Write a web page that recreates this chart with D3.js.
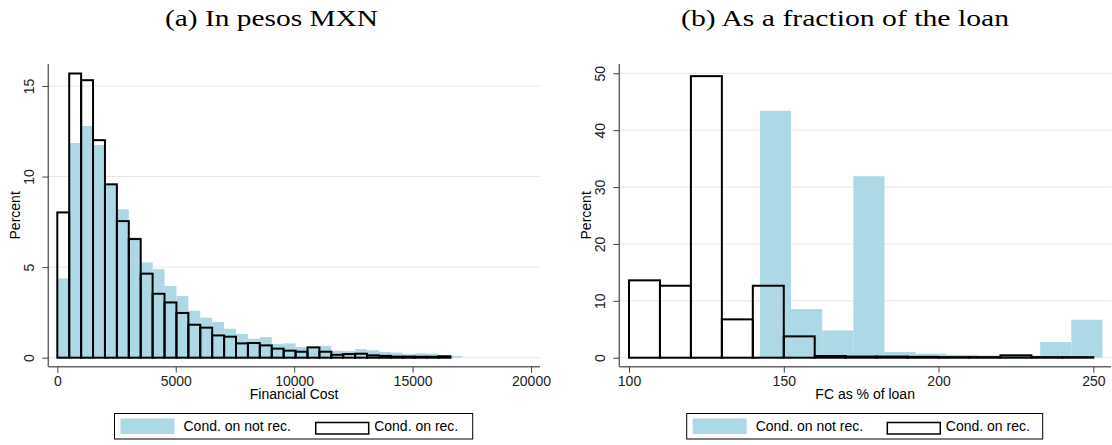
<!DOCTYPE html>
<html>
<head>
<meta charset="utf-8">
<script src="https://cdn.jsdelivr.net/npm/d3@7"></script>
<style>
  body { margin: 0; background: #fff; }
  text { font-family: "Liberation Sans", Arial, sans-serif; }
</style>
</head>
<body>
<div id="chart"></div>
<script>
// (a) financial cost in pesos, bins of ~503
const costBinStart = 0;
const costBinWidth = 503;
const costNotRec = [4.38, 11.85, 12.79, 11.74, 9.6, 8.2, 6.64, 5.26, 4.89, 3.96, 3.4, 2.59, 2.21, 1.97, 1.6, 1.31,
  1.05, 1.14, 0.76, 0.79, 0.59, 0.55, 0.65, 0.39, 0.36, 0.48, 0.41, 0.32, 0.28, 0.19, 0.24, 0.22, 0.13, 0.09];
const costRec = [8.02, 15.69, 15.32, 12.01, 9.57, 7.54, 6.55, 4.64, 3.53, 3.05, 2.47, 1.82, 1.66, 1.23, 1.16, 0.79,
  0.81, 0.68, 0.5, 0.39, 0.33, 0.57, 0.33, 0.16, 0.2, 0.22, 0.13, 0.1, 0.06, 0.06, 0.05, 0.05, 0.08];
const costTicksX = [0, 5000, 10000, 15000, 20000];
const costTicksY = [0, 5, 10, 15];

// (b) FC as % of loan
const fracNotRecStart = 142.3;
const fracNotRecWidth = 10.06;
const fracNotRec = [43.4, 8.55, 4.8, 31.9, 1.0, 0.7, 0.5, 0.4, 0.4, 2.76, 6.68];
const fracRecStart = 100;
const fracRecWidth = 10;
const fracRec = [13.6, 12.65, 49.5, 6.74, 12.65, 3.75, 0.3, 0.2, 0.2, 0.15, 0.1, 0.1, 0.42, 0.1, 0.1];
const fracTicksX = [100, 150, 200, 250];
const fracTicksY = [0, 10, 20, 30, 40, 50];

const legendLabels = ["Cond. on not rec.", "Cond. on rec."];
const blue = "#add8e6";

const svg = d3.select("#chart").append("svg")
  .attr("width", 1112)
  .attr("height", 445);

function drawPanel(p) {
  const g = svg.append("g");
  const x = d3.scaleLinear().domain(p.xDomain).range(p.xRange);
  const y = d3.scaleLinear().domain(p.yDomain).range(p.yRange);

  // gridlines
  g.append("g").selectAll("line")
    .data(p.yTicks)
    .join("line")
    .attr("x1", p.axisLeft).attr("x2", p.axisRight)
    .attr("y1", d => y(d)).attr("y2", d => y(d))
    .attr("stroke", "#e8e8e8").attr("stroke-width", 1);

  // filled bars (not received)
  g.append("g").selectAll("rect")
    .data(p.blue)
    .join("rect")
    .attr("x", (d, i) => x(p.blueStart + i * p.blueWidth))
    .attr("width", (d, i) => x(p.blueStart + (i + 1) * p.blueWidth) - x(p.blueStart + i * p.blueWidth))
    .attr("y", d => y(d))
    .attr("height", d => y(0) - y(d))
    .attr("fill", blue);

  // outlined bars (received)
  g.append("g").selectAll("rect")
    .data(p.black)
    .join("rect")
    .attr("x", (d, i) => x(p.blackStart + i * p.blackWidth))
    .attr("width", (d, i) => x(p.blackStart + (i + 1) * p.blackWidth) - x(p.blackStart + i * p.blackWidth))
    .attr("y", d => y(d))
    .attr("height", d => y(0) - y(d))
    .attr("fill", "none")
    .attr("stroke", "#000")
    .attr("stroke-width", 2);

  // axis lines
  g.append("line")
    .attr("x1", p.axisLeft).attr("x2", p.axisLeft)
    .attr("y1", p.axisTop).attr("y2", p.axisBottom)
    .attr("stroke", "#666").attr("stroke-width", 1.5);
  g.append("line")
    .attr("x1", p.axisLeft).attr("x2", p.axisRight)
    .attr("y1", p.axisBottom).attr("y2", p.axisBottom)
    .attr("stroke", "#666").attr("stroke-width", 1.5);

  const xAxis = g.append("g")
    .attr("transform", `translate(0,${p.axisBottom})`)
    .call(d3.axisBottom(x).tickValues(p.xTicks).tickSize(6).tickSizeOuter(0).tickFormat(d3.format("d")));
  xAxis.select(".domain").remove();
  xAxis.selectAll("line").attr("stroke", "#444");
  xAxis.selectAll("text").style("font-size", "14px").attr("fill", "#222");

  const yAxis = g.append("g")
    .attr("transform", `translate(${p.axisLeft},0)`)
    .call(d3.axisLeft(y).tickValues(p.yTicks).tickSize(6).tickSizeOuter(0));
  yAxis.select(".domain").remove();
  yAxis.selectAll("line").attr("stroke", "#444");
  yAxis.selectAll("text")
    .attr("x", 0).attr("dy", "0.35em")
    .attr("text-anchor", "middle")
    .attr("transform", "translate(-19,0) rotate(-90)")
    .style("font-size", "14px").attr("fill", "#222");

  g.append("text")
    .attr("transform", `translate(${p.yLabelX},${(p.axisTop + p.axisBottom) / 2}) rotate(-90)`)
    .attr("dy", "0.35em")
    .attr("text-anchor", "middle")
    .style("font-size", "14px")
    .text("Percent");

  g.append("text")
    .attr("x", (p.axisLeft + p.axisRight) / 2)
    .attr("y", 394.5)
    .attr("dy", "0.35em")
    .attr("text-anchor", "middle")
    .style("font-size", "14px")
    .text(p.xLabel);

  g.append("text")
    .attr("x", p.titleX)
    .attr("y", 26)
    .attr("text-anchor", "middle")
    .attr("textLength", p.titleLen)
    .attr("lengthAdjust", "spacingAndGlyphs")
    .style("font-family", "'Liberation Serif', 'DejaVu Serif', serif")
    .style("font-size", "24px")
    .text(p.title);

  // legend
  const lg = g.append("g");
  lg.append("rect")
    .attr("x", p.legend[0]).attr("y", 413.5)
    .attr("width", p.legend[1] - p.legend[0]).attr("height", 25.5)
    .attr("fill", "#fff").attr("stroke", "#000").attr("stroke-width", 1);
  lg.append("rect")
    .attr("x", p.legend[0] + 6).attr("y", 418.5)
    .attr("width", 54).attr("height", 15.5)
    .attr("fill", blue);
  lg.append("text")
    .attr("x", p.legend[0] + 69).attr("y", 426.5).attr("dy", "0.35em")
    .style("font-size", "14px")
    .text(legendLabels[0]);
  lg.append("rect")
    .attr("x", p.legend[2]).attr("y", 422.5)
    .attr("width", 53).attr("height", 11.5)
    .attr("fill", "none").attr("stroke", "#000").attr("stroke-width", 1.5);
  lg.append("text")
    .attr("x", p.legend[2] + 58.5).attr("y", 426.5).attr("dy", "0.35em")
    .style("font-size", "14px")
    .text(legendLabels[1]);
}

drawPanel({
  xDomain: [0, 20000], xRange: [57.3, 531],
  yDomain: [0, 15], yRange: [357.7, 86],
  axisLeft: 48.3, axisRight: 540, axisTop: 64, axisBottom: 366.7,
  xTicks: costTicksX, yTicks: costTicksY,
  blue: costNotRec, blueStart: costBinStart, blueWidth: costBinWidth,
  black: costRec, blackStart: costBinStart, blackWidth: costBinWidth,
  yLabelX: 15.5, xLabel: "Financial Cost",
  title: "(a) In pesos MXN", titleX: 271.5, titleLen: 213,
  legend: [114.5, 472.7, 315.7]
});

drawPanel({
  xDomain: [100, 250], xRange: [629, 1093.3],
  yDomain: [0, 50], yRange: [357.7, 73.3],
  axisLeft: 619.3, axisRight: 1111, axisTop: 64, axisBottom: 366.7,
  xTicks: fracTicksX, yTicks: fracTicksY,
  blue: fracNotRec, blueStart: fracNotRecStart, blueWidth: fracNotRecWidth,
  black: fracRec, blackStart: fracRecStart, blackWidth: fracRecWidth,
  yLabelX: 586, xLabel: "FC as % of loan",
  title: "(b) As a fraction of the loan", titleX: 845, titleLen: 328,
  legend: [686.7, 1042.7, 887.3]
});
</script>
</body>
</html>
